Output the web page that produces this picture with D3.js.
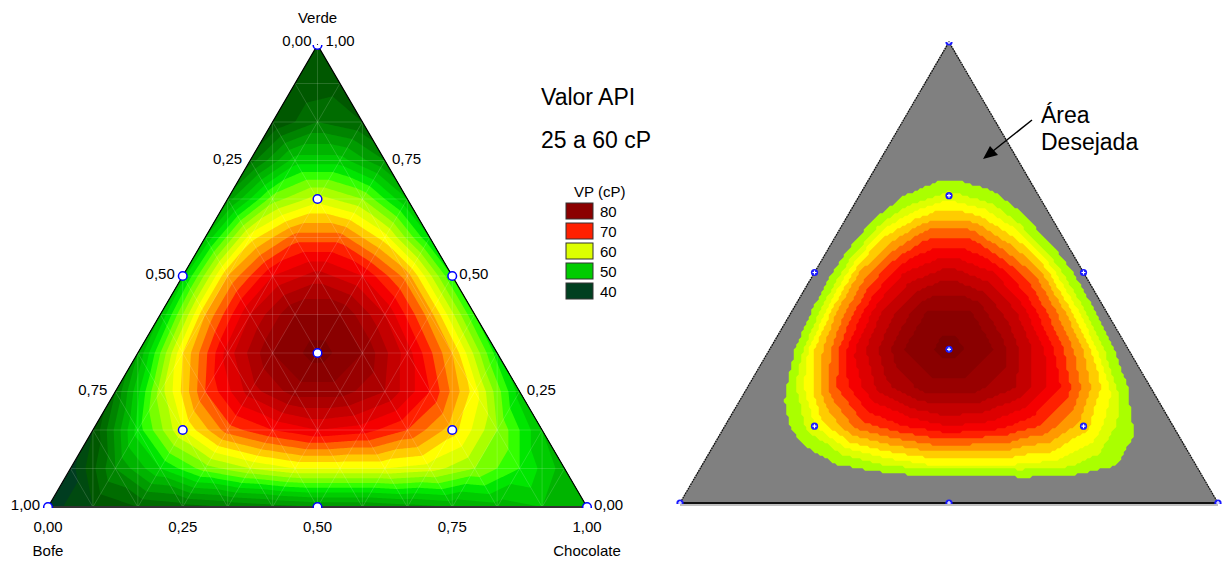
<!DOCTYPE html>
<html><head><meta charset="utf-8">
<script src="https://cdn.jsdelivr.net/npm/d3@7"></script>
<style>body{margin:0;background:#fff}svg{display:block}text{font-family:Arial,"Liberation Sans",sans-serif;fill:#000}</style>
</head><body><svg id="c" width="1231" height="563"></svg>
<script>
// ---- data ----
// VP (cP) read on a 1/12 simplex lattice; row k = Verde k/12 (bottom to top), entry j = Chocolate j/12, Bofe = rest
const N = 12;
const vpRows = [
  [37,40,42,43,44,45,46,46,47,48,49,50,50],
  [37,46,52,57,60,62,62,62,61,58,54,49],
  [40,53,62,69,72,74,73,70,65,58,50],
  [44,59,70,77,81,81,78,72,63,51],
  [48,64,75,82,85,82,75,66,53],
  [50,66,76,82,82,76,67,54],
  [51,66,74,77,74,67,54],
  [50,63,69,69,63,52],
  [47,57,61,58,50],
  [43,51,51,46],
  [40,44,42],
  [40,41],
  [40]
];
// design points [Bofe, Chocolate, Verde]
const designPts = [[1,0,0],[0,1,0],[0,0,1],[.5,.5,0],[.5,0,.5],[0,.5,.5],[2/3,1/6,1/6],[1/6,2/3,1/6],[1/6,1/6,2/3],[1/3,1/3,1/3]];
const thresholds = d3.range(38,86,2);
const bandColors = ["#003D20","#004A10","#005800","#006C00","#008400","#009C00","#00B400","#00CC00","#00E600","#33FF00","#77FF00","#AAFF00","#DDFF00","#FFFF00","#FFCC00","#FF9900","#FF6000","#FF2000","#F50000","#DD0000","#C40000","#AC0000","#990000","#8A0000","#7C0000"];
const legendValues = ["80","70","60","50","40"];
const legendColors = ["#8B0000","#FF2000","#DDFF00","#00CC00","#004020"];
const tickText = ["0,00","0,25","0,50","0,75","1,00"];
const tickVals = [0,.25,.5,.75,1];
const desiredMin = 57;   // colored part of right panel (above the 25–60 cP target area)

(function(){
function get(j,k){k=Math.max(0,Math.min(N,k));j=Math.max(0,Math.min(N-k,j));return vpRows[k][j];}
function surf(B,C,V){const u=C*N,w=V*N;const j0=Math.floor(u),k0=Math.floor(w);const fu=u-j0,fw=w-k0;
 if(fu+fw<=1){const v00=get(j0,k0);return v00+fu*(get(j0+1,k0)-v00)+fw*(get(j0,k0+1)-v00);}
 const v11=get(j0+1,k0+1);return v11+(1-fu)*(get(j0,k0+1)-v11)+(1-fw)*(get(j0+1,k0)-v11);}
const svg=d3.select("#c");
function makePanel(tri){
 const xs=d3.scaleLinear().domain([0,1]).range([tri.xl,tri.xr]);
 const ys=d3.scaleLinear().domain([0,1]).range([tri.yb,tri.yt]);
 const P=(B,C,V)=>[xs(C+V/2),ys(V)];
 return {xs,ys,P};
}
function contoursFor(tri,pan,cell,smooth,thr){
 const gw=Math.ceil((tri.xr-tri.xl)/cell)+2,gh=Math.ceil((tri.yb-tri.yt)/cell)+2;
 const vals=new Float64Array(gw*gh);
 for(let r=0;r<gh;r++)for(let q=0;q<gw;q++){const px=tri.xl+q*cell,py=tri.yt+r*cell;let V=pan.ys.invert(py),s=pan.xs.invert(px),C=s-V/2,B=1-C-V;B=Math.max(0,B);C=Math.max(0,C);V=Math.max(0,V);const t=B+C+V;vals[r*gw+q]=surf(B/t,C/t,V/t);}
 const cs=d3.contours().size([gw,gh]).smooth(smooth).thresholds(thr)(vals);
 const path=d3.geoPath(d3.geoIdentity().scale(cell).translate([tri.xl-cell/2,tri.yt-cell/2]));
 return {cs,path};
}
const color=d3.scaleThreshold().domain(thresholds).range(bandColors);
const triPts=t=>`${t.xl},${t.yb} ${t.xr},${t.yb} ${(t.xl+t.xr)/2},${t.yt}`;

// ---- left panel ----
const L={xl:48,xr:587,yb:507,yt:45};
const pl=makePanel(L);
const cl=contoursFor(L,pl,1.5,true,thresholds);
svg.append("clipPath").attr("id","cl").append("polygon").attr("points",triPts(L));
const gl=svg.append("g").attr("clip-path","url(#cl)");
gl.append("polygon").attr("points",triPts(L)).attr("fill",bandColors[0]);
gl.selectAll("path.band").data(cl.cs).join("path").attr("class","band").attr("d",cl.path).attr("fill",d=>color(d.value));
const mesh=gl.append("g").attr("stroke","#fff").attr("stroke-opacity",0.22).attr("stroke-width",0.7);
for(let m=1;m<N;m++){const f=m/N;
 [[[1-f,0,f],[0,1-f,f]],[[f,0,1-f],[f,1-f,0]],[[0,f,1-f],[1-f,f,0]]].forEach(([a,b])=>{const p=pl.P(...a),q=pl.P(...b);mesh.append("line").attr("x1",p[0]).attr("y1",p[1]).attr("x2",q[0]).attr("y2",q[1]);});
 const x=pl.xs(f);mesh.append("line").attr("x1",x).attr("x2",x).attr("y1",L.yt).attr("y2",L.yb);
}
const vTop=pl.P(0,0,1),vBl=pl.P(1,0,0),vBr=pl.P(0,1,0);
svg.append("path").attr("d",`M${vBl}L${vTop}L${vBr}`).attr("fill","none").attr("stroke","#000").attr("stroke-width",1.2);
svg.append("line").attr("x1",vBl[0]).attr("y1",vBl[1]).attr("x2",vBr[0]).attr("y2",vBr[1]).attr("stroke","#333").attr("stroke-width",2);
svg.append("clipPath").attr("id","clp").append("rect").attr("x",40).attr("y",L.yt).attr("width",560).attr("height",L.yb-L.yt+1);
svg.append("g").attr("clip-path","url(#clp)").selectAll("circle").data(designPts).join("circle")
 .attr("cx",d=>pl.P(...d)[0]).attr("cy",d=>pl.P(...d)[1]).attr("r",4.3).attr("fill","#fff").attr("stroke","#0000FF").attr("stroke-width",1.5);
const tl=svg.append("g").attr("font-size",15);
tl.append("text").attr("x",vTop[0]).attr("y",23).attr("text-anchor","middle").text("Verde");
tickVals.forEach((b,i)=>{
 const p=pl.P(b,0,1-b);
 if(i===0) tl.append("text").attr("x",p[0]-6).attr("y",46).attr("text-anchor","end").text(tickText[i]);
 else tl.append("text").attr("x",p[0]-8).attr("y",p[1]+3).attr("text-anchor","end").text(tickText[i]);
});
tickVals.forEach((v,i)=>{
 const p=pl.P(0,1-v,v);
 if(i===4) tl.append("text").attr("x",p[0]+8).attr("y",46).text(tickText[i]);
 else tl.append("text").attr("x",p[0]+7).attr("y",p[1]+3).text(tickText[i]);
});
tickVals.forEach((c,i)=>{
 tl.append("text").attr("x",pl.xs(c)).attr("y",532).attr("text-anchor","middle").text(tickText[i]);
});
tl.append("text").attr("x",vBl[0]).attr("y",556).attr("text-anchor","middle").text("Bofe");
tl.append("text").attr("x",vBr[0]).attr("y",556).attr("text-anchor","middle").text("Chocolate");
svg.append("text").attr("x",541).attr("y",105).attr("font-size",23).text("Valor API");
svg.append("text").attr("x",541).attr("y",148).attr("font-size",23).text("25 a 60 cP");
svg.append("text").attr("x",574).attr("y",197).attr("font-size",15).text("VP (cP)");
const lg=svg.append("g");
legendValues.forEach((v,i)=>{
 lg.append("rect").attr("x",566).attr("y",203+i*20).attr("width",27).attr("height",16).attr("fill",legendColors[i]).attr("stroke","#333").attr("stroke-width",1);
 lg.append("text").attr("x",600).attr("y",217+i*20).attr("font-size",15).text(v);
});

// ---- right panel ----
const Rt={xl:680,xr:1218,yb:503,yt:42};
const pr=makePanel(Rt);
const rthr=[desiredMin].concat(thresholds.filter(t=>t>=60));
const cr=contoursFor(Rt,pr,2.5,false,rthr);
svg.append("clipPath").attr("id","cr").append("polygon").attr("points",triPts(Rt));
const gr=svg.append("g").attr("clip-path","url(#cr)");
gr.append("polygon").attr("points",triPts(Rt)).attr("fill","#808080");
gr.selectAll("path").data(cr.cs).join("path").attr("d",cr.path).attr("fill",d=>color(Math.max(58,d.value)));
const rTop=pr.P(0,0,1),rBl=pr.P(1,0,0),rBr=pr.P(0,1,0);
svg.append("path").attr("d",`M${rBl}L${rTop}L${rBr}`).attr("fill","none").attr("stroke","#111").attr("stroke-width",1.3).attr("stroke-dasharray","2,0.6");
svg.append("line").attr("x1",rBl[0]).attr("y1",rBl[1]+2).attr("x2",rBr[0]).attr("y2",rBr[1]+2).attr("stroke","#aaa").attr("stroke-width",1.5);
svg.append("line").attr("x1",rBl[0]).attr("y1",rBl[1]).attr("x2",rBr[0]).attr("y2",rBr[1]).attr("stroke","#111").attr("stroke-width",2);
svg.append("clipPath").attr("id","crp").append("rect").attr("x",670).attr("y",Rt.yt).attr("width",560).attr("height",Rt.yb-Rt.yt+1);
const mk=svg.append("g").attr("clip-path","url(#crp)").selectAll("g").data(designPts).join("g")
 .attr("transform",d=>`translate(${pr.P(...d)})`);
mk.append("circle").attr("r",3.6).attr("fill","#1a1aff");
mk.append("path").attr("d","M-2,0H2M0,-2V2").attr("stroke","#fff").attr("stroke-width",1.2);
svg.append("text").attr("x",1041).attr("y",123).attr("font-size",23).text("Área");
svg.append("text").attr("x",1041).attr("y",150).attr("font-size",23).text("Desejada");
svg.append("line").attr("x1",1032).attr("y1",120).attr("x2",993).attr("y2",151).attr("stroke","#000").attr("stroke-width",1.5);
svg.append("path").attr("d","M983,159L990,146L998,155Z").attr("fill","#000");
})();
</script></body></html>
